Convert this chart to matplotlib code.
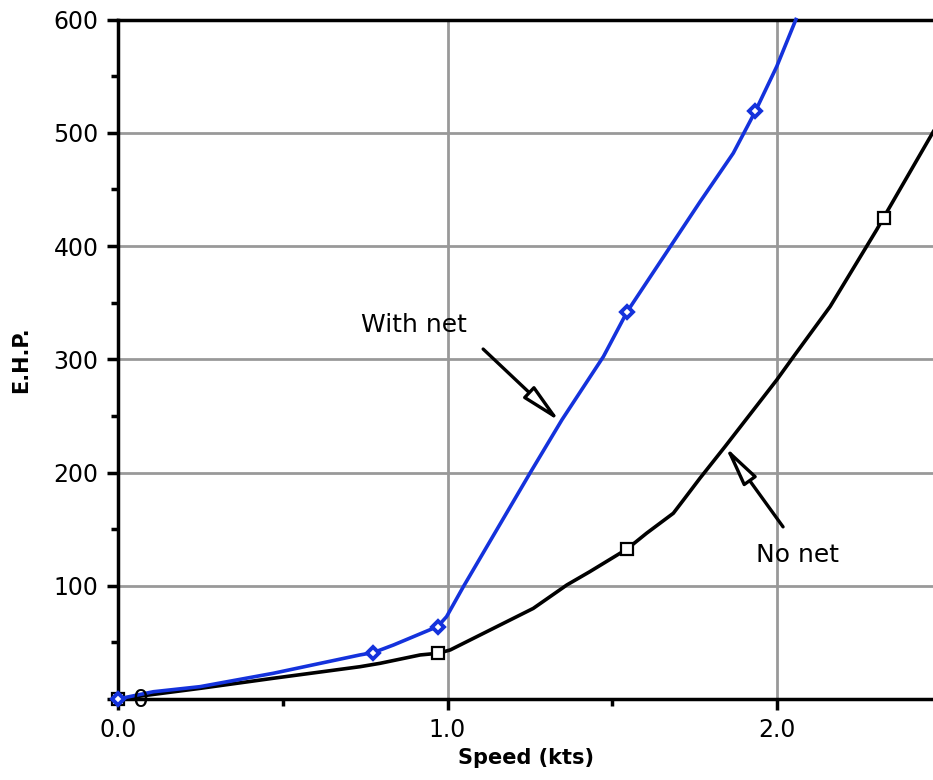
import matplotlib.pyplot as plt
from matplotlib.ticker import MultipleLocator

# valores
vel_rede = [0, 0.107, 0.249, 0.471, 0.734, 0.775, 0.836, 0.896, 0.97, 0.997, 1.048, 1.149, 1.25,
            1.347, 1.473, 1.545, 1.766, 1.867, 1.934, 1.999, 2.057]
ehp_rede = [0, 6.4, 10.9, 22.7, 38.9, 41, 47.7, 55, 64, 72.7, 99.2, 149.3, 199.4,
            246.5, 302.4, 342, 439, 482, 519, 558.6, 600]
marcas_rede = [0, 5, 8, 15, 18]

vel_sem = [0, 0.249, 0.471, 0.734, 0.795, 0.917, 0.972, 1.008, 1.26, 1.362, 1.432, 1.545, 1.604,
           1.685, 1.716, 1.766, 1.842, 1.999, 2.05, 2.161, 2.302, 2.323, 2.474]
ehp_sem = [0, 9.4, 18.3, 28.5, 31.5, 38.9, 40.4, 43.3, 80, 100.7, 112.5, 132.5, 146.4,
           164, 175.8, 195, 222.9, 281.8, 302.4, 346.6, 414.3, 425, 501]
marcas_sem = [0, 6, 11, 21]

xticks = [0, 1, 2]
xlabels = ["0.0", "1.0", "2.0"]
yticks = [0, 100, 200, 300, 400, 500, 600]
ylabels = ["", "100", "200", "300", "400", "500", "600"]

fig = plt.figure(figsize=(9.33, 7.8), dpi=100)
ax = fig.add_axes([118/933, 81/780, 815/933, 679.5/780])

ax.plot(vel_sem, ehp_sem, color="black", lw=2.6, marker="s", markevery=marcas_sem,
        ms=8.5, mfc="white", mec="black", mew=1.6, clip_on=False, zorder=3)
ax.plot(vel_rede, ehp_rede, color="#1432dc", lw=2.6, marker="D", markevery=marcas_rede,
        ms=6, mfc="white", mec="#1432dc", mew=2.8, clip_on=False, zorder=4)

ax.set_xlim(0, 2.473)
ax.set_ylim(0, 600)
ax.set_xticks(xticks)
ax.set_xticklabels(xlabels)
ax.set_yticks(yticks)
ax.set_yticklabels(ylabels)
ax.xaxis.set_minor_locator(MultipleLocator(0.5))
ax.yaxis.set_minor_locator(MultipleLocator(50))
ax.tick_params(which="major", direction="out", length=8, width=2.5, labelsize=17, pad=6)
ax.tick_params(which="minor", direction="out", length=5, width=2.5)
ax.grid(True, which="major", color="#999999", lw=2)
ax.set_axisbelow(True)

ax.spines["right"].set_visible(False)
for s in ["left", "bottom", "top"]:
    ax.spines[s].set_linewidth(2.5)

ax.set_xlabel("Speed (kts)", fontsize=15, fontweight="bold", labelpad=4)
ax.set_ylabel("E.H.P.", fontsize=15, fontweight="bold", labelpad=16)

ax.text(0.067, -1, "0", fontsize=18, ha="center", va="center", zorder=5)

seta = dict(arrowstyle="-|>,head_length=1.1,head_width=0.22", fc="white", ec="black", lw=2.4,
            mutation_scale=22, shrinkA=0, shrinkB=0)
ax.annotate("", xy=(1.341, 245), xytext=(1.108, 309), arrowprops=seta)
ax.text(0.898, 330, "With net", fontsize=18, ha="center", va="center")
ax.annotate("", xy=(1.842, 223), xytext=(2.018, 152), arrowprops=seta)
ax.text(2.061, 127, "No net", fontsize=18, ha="center", va="center")

plt.savefig("out.png", dpi=100)
